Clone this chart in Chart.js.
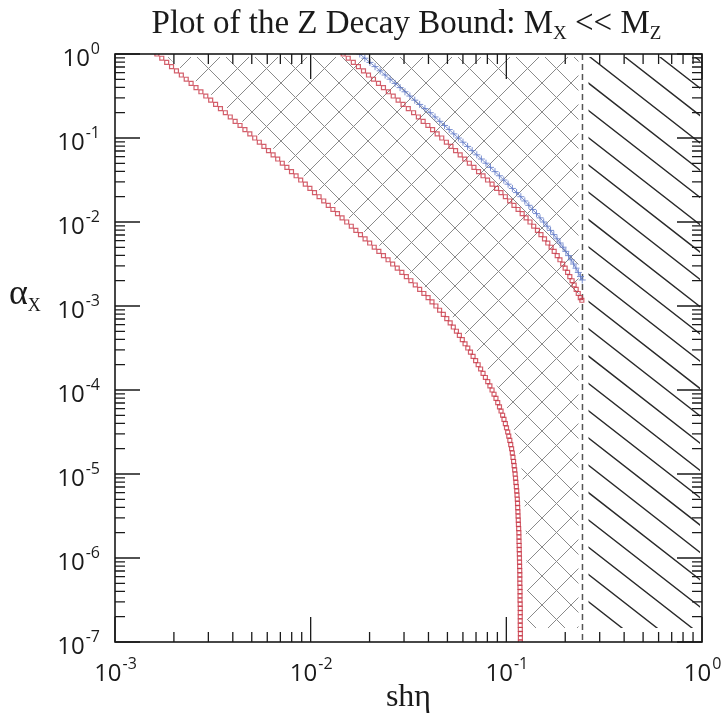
<!DOCTYPE html>
<html>
<head>
<meta charset="utf-8">
<script src="https://cdn.jsdelivr.net/npm/chart.js@4.4.0/dist/chart.umd.min.js"></script>
<style>
html, body { margin: 0; padding: 0; background: #fff; }
#wrap { width: 721px; height: 716px; }
</style>
</head>
<body>
<div id="wrap"><canvas id="chart" width="721" height="716"></canvas></div>
<script>

// lower red curve (squares), one row per decade of alpha
const lowerAlpha = [
    1e0, 8.91e-1, 7.94e-1, 7.08e-1, 6.31e-1, 5.62e-1, 5.01e-1, 4.47e-1, 3.98e-1, 3.55e-1,
    3.16e-1, 2.82e-1, 2.51e-1, 2.24e-1, 2.00e-1, 1.78e-1, 1.58e-1, 1.41e-1, 1.26e-1, 1.12e-1,
    1e-1, 8.91e-2, 7.94e-2, 7.08e-2, 6.31e-2, 5.62e-2, 5.01e-2, 4.47e-2, 3.98e-2, 3.55e-2,
    3.16e-2, 2.82e-2, 2.51e-2, 2.24e-2, 2.00e-2, 1.78e-2, 1.58e-2, 1.41e-2, 1.26e-2, 1.12e-2,
    1e-2, 8.91e-3, 7.94e-3, 7.08e-3, 6.31e-3, 5.62e-3, 5.01e-3, 4.47e-3, 3.98e-3, 3.55e-3,
    3.16e-3, 2.82e-3, 2.51e-3, 2.24e-3, 2.00e-3, 1.78e-3, 1.58e-3, 1.41e-3, 1.26e-3, 1.12e-3,
    1e-3, 8.91e-4, 7.94e-4, 7.08e-4, 6.31e-4, 5.62e-4, 5.01e-4, 4.47e-4, 3.98e-4, 3.55e-4,
    3.16e-4, 2.82e-4, 2.51e-4, 2.24e-4, 2.00e-4, 1.78e-4, 1.58e-4, 1.41e-4, 1.26e-4, 1.12e-4,
    1e-4, 8.91e-5, 7.94e-5, 7.08e-5, 6.31e-5, 5.62e-5, 5.01e-5, 4.47e-5, 3.98e-5, 3.55e-5,
    3.16e-5, 2.82e-5, 2.51e-5, 2.24e-5, 2.00e-5, 1.78e-5, 1.58e-5, 1.41e-5, 1.26e-5, 1.12e-5,
    1e-5, 8.91e-6, 7.94e-6, 7.08e-6, 6.31e-6, 5.62e-6, 5.01e-6, 4.47e-6, 3.98e-6, 3.55e-6,
    3.16e-6, 2.82e-6, 2.51e-6, 2.24e-6, 2.00e-6, 1.78e-6, 1.58e-6, 1.41e-6, 1.26e-6, 1.12e-6,
    1e-6, 8.91e-7, 7.94e-7, 7.08e-7, 6.31e-7, 5.62e-7, 5.01e-7, 4.47e-7, 3.98e-7, 3.55e-7,
    3.16e-7, 2.82e-7, 2.51e-7, 2.24e-7, 2.00e-7, 1.78e-7, 1.58e-7, 1.41e-7, 1.26e-7, 1.12e-7,
    1e-7
];
const lowerSh = [
    0.001637, 0.001734, 0.001837, 0.001945, 0.002061, 0.002183, 0.002312, 0.002449, 0.002594, 0.002748,
    0.002911, 0.003083, 0.003266, 0.003459, 0.003664, 0.003882, 0.004111, 0.004355, 0.004613, 0.004887,
    0.005176, 0.005464, 0.005768, 0.006088, 0.006427, 0.006784, 0.007161, 0.007559, 0.007980, 0.008424,
    0.008892, 0.009387, 0.009908, 0.01046, 0.01104, 0.01166, 0.01230, 0.01299, 0.01371, 0.01447,
    0.01528, 0.01613, 0.01702, 0.01797, 0.01897, 0.02002, 0.02113, 0.02231, 0.02355, 0.02486,
    0.02624, 0.02770, 0.02924, 0.03083, 0.03251, 0.03424, 0.03606, 0.03789, 0.03981, 0.04169,
    0.04365, 0.04560, 0.04764, 0.04961, 0.05164, 0.05358, 0.05559, 0.05754, 0.05957, 0.06152,
    0.06353, 0.06556, 0.06761, 0.06966, 0.07178, 0.07388, 0.07603, 0.07816, 0.08035, 0.08241,
    0.08453, 0.08650, 0.08851, 0.09036, 0.09226, 0.09397, 0.09572, 0.09727, 0.09886, 0.1002,
    0.1016, 0.1029, 0.1042, 0.1053, 0.1064, 0.1073, 0.1081, 0.1089, 0.1096, 0.1103,
    0.1109, 0.1114, 0.1119, 0.1125, 0.1130, 0.1134, 0.1138, 0.1141, 0.1143, 0.1146,
    0.1148, 0.1151, 0.1153, 0.1156, 0.1159, 0.1160, 0.1161, 0.1163, 0.1164, 0.1166,
    0.1167, 0.1168, 0.1169, 0.1171, 0.1172, 0.1172, 0.1172, 0.1174, 0.1175, 0.1175,
    0.1175, 0.1177, 0.1178, 0.1178, 0.1178, 0.1178, 0.1178, 0.1179, 0.1180, 0.1180,
    0.1180
];

// upper red curve (squares), ends on the dashed bound
const upperAlpha = [
    1e0, 8.91e-1, 7.94e-1, 7.08e-1, 6.31e-1, 5.62e-1, 5.01e-1, 4.47e-1, 3.98e-1, 3.55e-1,
    3.16e-1, 2.82e-1, 2.51e-1, 2.24e-1, 2.00e-1, 1.78e-1, 1.58e-1, 1.41e-1, 1.26e-1, 1.12e-1,
    1e-1, 8.91e-2, 7.94e-2, 7.08e-2, 6.31e-2, 5.62e-2, 5.01e-2, 4.47e-2, 3.98e-2, 3.55e-2,
    3.16e-2, 2.82e-2, 2.51e-2, 2.24e-2, 2.00e-2, 1.78e-2, 1.58e-2, 1.41e-2, 1.26e-2, 1.12e-2,
    1e-2, 8.91e-3, 7.94e-3, 7.08e-3, 6.31e-3, 5.62e-3, 5.01e-3, 4.47e-3, 3.98e-3, 3.55e-3,
    3.16e-3, 2.82e-3, 2.51e-3, 2.24e-3, 2.00e-3, 1.78e-3, 1.58e-3, 1.41e-3, 1.26e-3, 1.17e-3
];
const upperSh = [
    0.01466, 0.01556, 0.01652, 0.01754, 0.01862, 0.01975, 0.02094, 0.02221, 0.02355, 0.02495,
    0.02642, 0.02799, 0.02965, 0.03155, 0.03357, 0.03552, 0.03758, 0.03972, 0.04198, 0.04431,
    0.04677, 0.04938, 0.05212, 0.05502, 0.05808, 0.06131, 0.06471, 0.06831, 0.07211, 0.07603,
    0.08017, 0.08453, 0.08913, 0.09387, 0.09886, 0.1040, 0.1094, 0.1148, 0.1205, 0.1262,
    0.1321, 0.1380, 0.1442, 0.1503, 0.1567, 0.1629, 0.1694, 0.1756, 0.1820, 0.1879,
    0.1941, 0.1998, 0.2056, 0.2111, 0.2168, 0.2221, 0.2275, 0.2331, 0.2388, 0.2432
];

// blue curve (crosses), ends on the dashed bound
const blueAlpha = [
    1e0, 8.91e-1, 7.94e-1, 7.08e-1, 6.31e-1, 5.62e-1, 5.01e-1, 4.47e-1, 3.98e-1, 3.55e-1,
    3.16e-1, 2.82e-1, 2.51e-1, 2.24e-1, 2.00e-1, 1.78e-1, 1.58e-1, 1.41e-1, 1.26e-1, 1.12e-1,
    1e-1, 8.91e-2, 7.94e-2, 7.08e-2, 6.31e-2, 5.62e-2, 5.01e-2, 4.47e-2, 3.98e-2, 3.55e-2,
    3.16e-2, 2.82e-2, 2.51e-2, 2.24e-2, 2.00e-2, 1.78e-2, 1.58e-2, 1.41e-2, 1.26e-2, 1.12e-2,
    1e-2, 8.91e-3, 7.94e-3, 7.08e-3, 6.31e-3, 5.62e-3, 5.01e-3, 4.47e-3, 3.98e-3, 3.55e-3,
    3.16e-3, 2.82e-3, 2.51e-3, 2.24e-3, 2.04e-3
];
const blueSh = [
    0.01782, 0.01892, 0.02009, 0.02133, 0.02265, 0.02402, 0.02547, 0.02701, 0.02864, 0.03034,
    0.03214, 0.03404, 0.03606, 0.03837, 0.04083, 0.04320, 0.04571, 0.04831, 0.05105, 0.05389,
    0.05689, 0.06004, 0.06339, 0.06690, 0.07063, 0.07456, 0.07870, 0.08299, 0.08750, 0.09215,
    0.09705, 0.1021, 0.1074, 0.1128, 0.1186, 0.1243, 0.1303, 0.1363, 0.1426, 0.1487,
    0.1552, 0.1616, 0.1683, 0.1748, 0.1816, 0.1882, 0.1950, 0.2014, 0.2080, 0.2143,
    0.2208, 0.2270, 0.2333, 0.2393, 0.2443
];

// dashed vertical bound
const shBound = 0.245;

const xTicks = [1e-3, 1e-2, 1e-1, 1e0];
const xTickExp = ["-3", "-2", "-1", "0"];
const yTicks = [1e-7, 1e-6, 1e-5, 1e-4, 1e-3, 1e-2, 1e-1, 1e0];
const yTickExp = ["-7", "-6", "-5", "-4", "-3", "-2", "-1", "0"];

const RED = "rgba(200, 55, 70, 0.8)";
const BLUE = "rgba(100, 125, 200, 0.85)";
const SANS = "'Open Sans', 'DejaVu Sans', sans-serif";
const SERIF = "'Liberation Serif', 'DejaVu Serif', serif";

function pts(xs, ys) {
    return xs.map((v, i) => ({ x: v, y: ys[i] }));
}

function hatch(ctx, a, slope, step) {
    // slope > 0 draws "\" lines, slope < 0 draws "/" lines
    const h = a.bottom - a.top;
    const run = h / slope;
    ctx.beginPath();
    for (let x0 = a.left - Math.abs(run) - step; x0 < a.right + Math.abs(run) + step; x0 += step) {
        ctx.moveTo(x0, a.top);
        ctx.lineTo(x0 + run, a.bottom);
    }
    ctx.stroke();
}

const background = {
    id: "background",
    beforeDatasetsDraw(chart) {
        const ctx = chart.ctx, a = chart.chartArea;
        const x = chart.scales.x, y = chart.scales.y;
        const xd = x.getPixelForValue(shBound);
        const top = a.top + 3, bottom = a.bottom - 14;

        // cross hatch between lower curve and the bound
        ctx.save();
        ctx.beginPath();
        ctx.rect(a.left, top, a.right - a.left, bottom - top);
        ctx.clip();
        ctx.beginPath();
        lowerSh.forEach((v, i) => {
            const px = x.getPixelForValue(v) + 7;
            const py = y.getPixelForValue(lowerAlpha[i]);
            if (i == 0) ctx.moveTo(px, a.top - 5);
            ctx.lineTo(px, py);
        });
        ctx.lineTo(xd - 4, a.bottom + 5);
        ctx.lineTo(xd - 4, a.top - 5);
        ctx.closePath();
        ctx.clip();
        ctx.strokeStyle = "#8a8a8a";
        ctx.lineWidth = 1;
        hatch(ctx, a, 1, 29);
        hatch(ctx, a, -1, 29);
        ctx.restore();

        // single hatch right of the bound
        ctx.save();
        ctx.beginPath();
        ctx.rect(xd + 6, top, a.right - xd - 8, bottom - top);
        ctx.clip();
        ctx.strokeStyle = "#2a2a2a";
        ctx.lineWidth = 1.4;
        hatch(ctx, a, 0.78, 35);
        ctx.restore();

        // dashed bound
        ctx.save();
        ctx.strokeStyle = "#555";
        ctx.lineWidth = 1.5;
        ctx.setLineDash([6, 4]);
        ctx.beginPath();
        ctx.moveTo(xd, a.top);
        ctx.lineTo(xd, a.bottom);
        ctx.stroke();
        ctx.restore();
    }
};

function powLabel(ctx, exp, px, py, align) {
    ctx.font = "24px " + SANS;
    const w1 = ctx.measureText("10").width;
    ctx.font = "16px " + SANS;
    const w2 = ctx.measureText(exp).width;
    const left = align == "center" ? px - (w1 + w2) / 2 : px - w1 - w2;
    ctx.font = "24px " + SANS;
    ctx.fillText("10", left, py);
    ctx.font = "16px " + SANS;
    ctx.fillText(exp, left + w1 + 1, py - 12);
}

function subText(ctx, parts, cx, baseline, size, subSize, drop) {
    // parts: [text, isSub]
    let total = 0;
    parts.forEach(p => {
        ctx.font = (p[1] ? subSize : size) + "px " + SERIF;
        total += ctx.measureText(p[0]).width;
    });
    let left = cx == null ? 0 : cx - total / 2;
    return { total, draw(startX) {
        let px = startX == null ? left : startX;
        parts.forEach(p => {
            ctx.font = (p[1] ? subSize : size) + "px " + SERIF;
            ctx.fillText(p[0], px, p[1] ? baseline + drop : baseline);
            px += ctx.measureText(p[0]).width;
        });
    } };
}

const frame = {
    id: "frame",
    afterDraw(chart) {
        const ctx = chart.ctx, a = chart.chartArea;
        const x = chart.scales.x, y = chart.scales.y;

        ctx.save();
        ctx.strokeStyle = "#1a1a1a";

        // ticks on all four sides, pointing inward
        ctx.lineWidth = 1.3;
        ctx.beginPath();
        for (let i = 0; i < xTicks.length; i++) {
            const px = x.getPixelForValue(xTicks[i]);
            ctx.moveTo(px, a.bottom); ctx.lineTo(px, a.bottom - 25);
            ctx.moveTo(px, a.top); ctx.lineTo(px, a.top + 25);
            if (i == xTicks.length - 1) break;
            for (let k = 2; k <= 9; k++) {
                const pm = x.getPixelForValue(xTicks[i] * k);
                ctx.moveTo(pm, a.bottom); ctx.lineTo(pm, a.bottom - 10);
                ctx.moveTo(pm, a.top); ctx.lineTo(pm, a.top + 10);
            }
        }
        for (let i = 0; i < yTicks.length; i++) {
            const py = y.getPixelForValue(yTicks[i]);
            ctx.moveTo(a.left, py); ctx.lineTo(a.left + 25, py);
            ctx.moveTo(a.right, py); ctx.lineTo(a.right - 25, py);
            if (i == yTicks.length - 1) break;
            for (let k = 2; k <= 9; k++) {
                const pm = y.getPixelForValue(yTicks[i] * k);
                ctx.moveTo(a.left, pm); ctx.lineTo(a.left + 10, pm);
                ctx.moveTo(a.right, pm); ctx.lineTo(a.right - 10, pm);
            }
        }
        ctx.stroke();

        ctx.lineWidth = 1.6;
        ctx.strokeRect(a.left, a.top, a.right - a.left, a.bottom - a.top);

        // tick labels
        ctx.fillStyle = "#1a1a1a";
        ctx.textBaseline = "alphabetic";
        xTicks.forEach((v, i) => {
            powLabel(ctx, xTickExp[i], x.getPixelForValue(v), a.bottom + 39, "center");
        });
        yTicks.forEach((v, i) => {
            powLabel(ctx, yTickExp[i], a.left - 16, y.getPixelForValue(v) + 12, "right");
        });

        // title
        const cx = (a.left + a.right) / 2;
        subText(ctx, [["Plot of the Z Decay Bound: M", false], ["X", true], [" << M", false], ["Z", true]],
            cx - 2, 33, 33, 19, 6).draw();

        // axis titles
        subText(ctx, [["sh\u03B7", false]], cx, a.bottom + 64, 32, 16, 5).draw();
        subText(ctx, [["\u03B1", false], ["X", true]], null, y.getPixelForValue(1e-3) - 2, 36, 18, 7).draw(9);

        ctx.restore();
    }
};

new Chart(document.getElementById("chart"), {
    type: "scatter",
    data: {
        datasets: [
            {
                label: "lower",
                data: pts(lowerSh, lowerAlpha),
                pointStyle: "rect",
                pointRadius: 2.8,
                pointBorderWidth: 1.2,
                pointBorderColor: RED,
                pointBackgroundColor: "rgba(255,255,255,0)"
            },
            {
                label: "upper",
                data: pts(upperSh, upperAlpha),
                pointStyle: "rect",
                pointRadius: 2.8,
                pointBorderWidth: 1.2,
                pointBorderColor: RED,
                pointBackgroundColor: "rgba(255,255,255,0)"
            },
            {
                label: "blue",
                data: pts(blueSh, blueAlpha),
                showLine: true,
                borderColor: BLUE,
                borderWidth: 1,
                pointStyle: "cross",
                pointRadius: 3.5,
                pointBorderWidth: 1,
                pointBorderColor: BLUE
            }
        ]
    },
    options: {
        responsive: false,
        animation: false,
        layout: {
            padding: { left: 115, right: 19, top: 54, bottom: 74 }
        },
        plugins: {
            legend: { display: false },
            tooltip: { enabled: false }
        },
        scales: {
            x: { type: "logarithmic", min: 1e-3, max: 1, display: false },
            y: { type: "logarithmic", min: 1e-7, max: 1, display: false }
        }
    },
    plugins: [background, frame]
});

</script>
</body>
</html>
